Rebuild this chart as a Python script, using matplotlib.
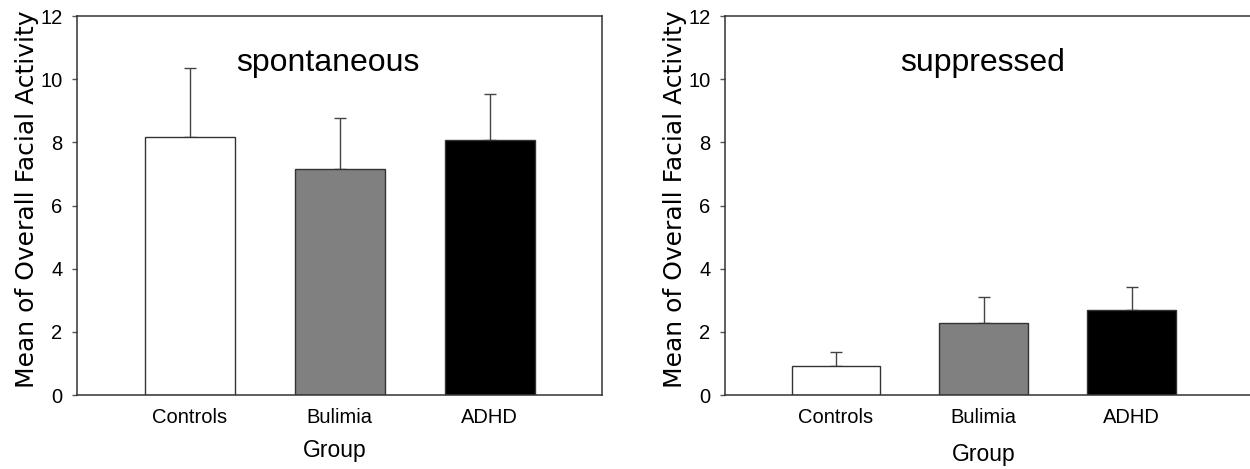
import matplotlib
matplotlib.use("Agg")
import matplotlib.pyplot as plt
import numpy as np

groups = ["Controls", "Bulimia", "ADHD"]
spont_means = [8.18, 7.15, 8.08]
spont_errs = [2.18, 1.63, 1.44]
supp_means = [0.92, 2.27, 2.69]
supp_errs = [0.44, 0.83, 0.73]
yticks = [0, 2, 4, 6, 8, 10, 12]
bar_colors = ["#ffffff", "#808080", "#000000"]
panel_titles = ["spontaneous", "suppressed"]
ylabel = "Mean of Overall Facial Activity"
xlabel = "Group"

plt.rcParams['font.family'] = ['Liberation Sans', 'DejaVu Sans']

fig = plt.figure(figsize=(12.5, 4.69), dpi=100)
W, H = 1250, 469
def axrect(x0, x1, ytop, ybot):
    return [x0 / W, 1 - ybot / H, (x1 - x0) / W, (ybot - ytop) / H]

ax1 = fig.add_axes(axrect(77, 602, 16, 395))
ax2 = fig.add_axes(axrect(725, 1250, 16, 395))

spine_col = "#333333"
x = np.arange(len(groups))

for ax, means, errs, title, xlim, tx, in [
    (ax1, spont_means, spont_errs, panel_titles[0], (-0.75, 2.75), 0.92),
    (ax2, supp_means, supp_errs, panel_titles[1], (-0.75, 2.8), 0.99),
]:
    ax.bar(x, means, width=0.6, color=bar_colors, edgecolor="#333333",
           linewidth=1.0, zorder=2)
    ax.errorbar(x, means, yerr=[np.zeros(len(errs)), errs], fmt='none',
                ecolor="#444444", elinewidth=1.0, capsize=4, capthick=1.0,
                zorder=1)
    ax.set_xlim(*xlim)
    ax.set_ylim(0, 12)
    ax.set_yticks(yticks)
    ax.set_yticklabels([str(v) for v in yticks])
    ax.set_xticks(x)
    ax.set_xticklabels(groups)
    ax.tick_params(axis='y', direction='out', length=3.6, width=1,
                   color="#555555", labelsize=14.5, pad=7)
    ax.tick_params(axis='x', length=0, labelsize=14.5, pad=9)
    for s in ax.spines.values():
        s.set_color(spine_col)
        s.set_linewidth(1.1)
    ax.text(tx, 10.5, title, ha='center', va='center', fontsize=23)
    ax.set_ylabel(ylabel, family=['DejaVu Sans'], fontsize=18,
                  ha='left', va='baseline')
    ax.yaxis.set_label_coords(-0.082, 0.018)
    ax.set_xlabel(xlabel, fontsize=16.5)

ax1.xaxis.set_label_coords(0.49, -0.116)
ax2.xaxis.set_label_coords(0.493, -0.126)
ax2.spines['right'].set_visible(False)

fig.savefig("out.png", dpi=100)
